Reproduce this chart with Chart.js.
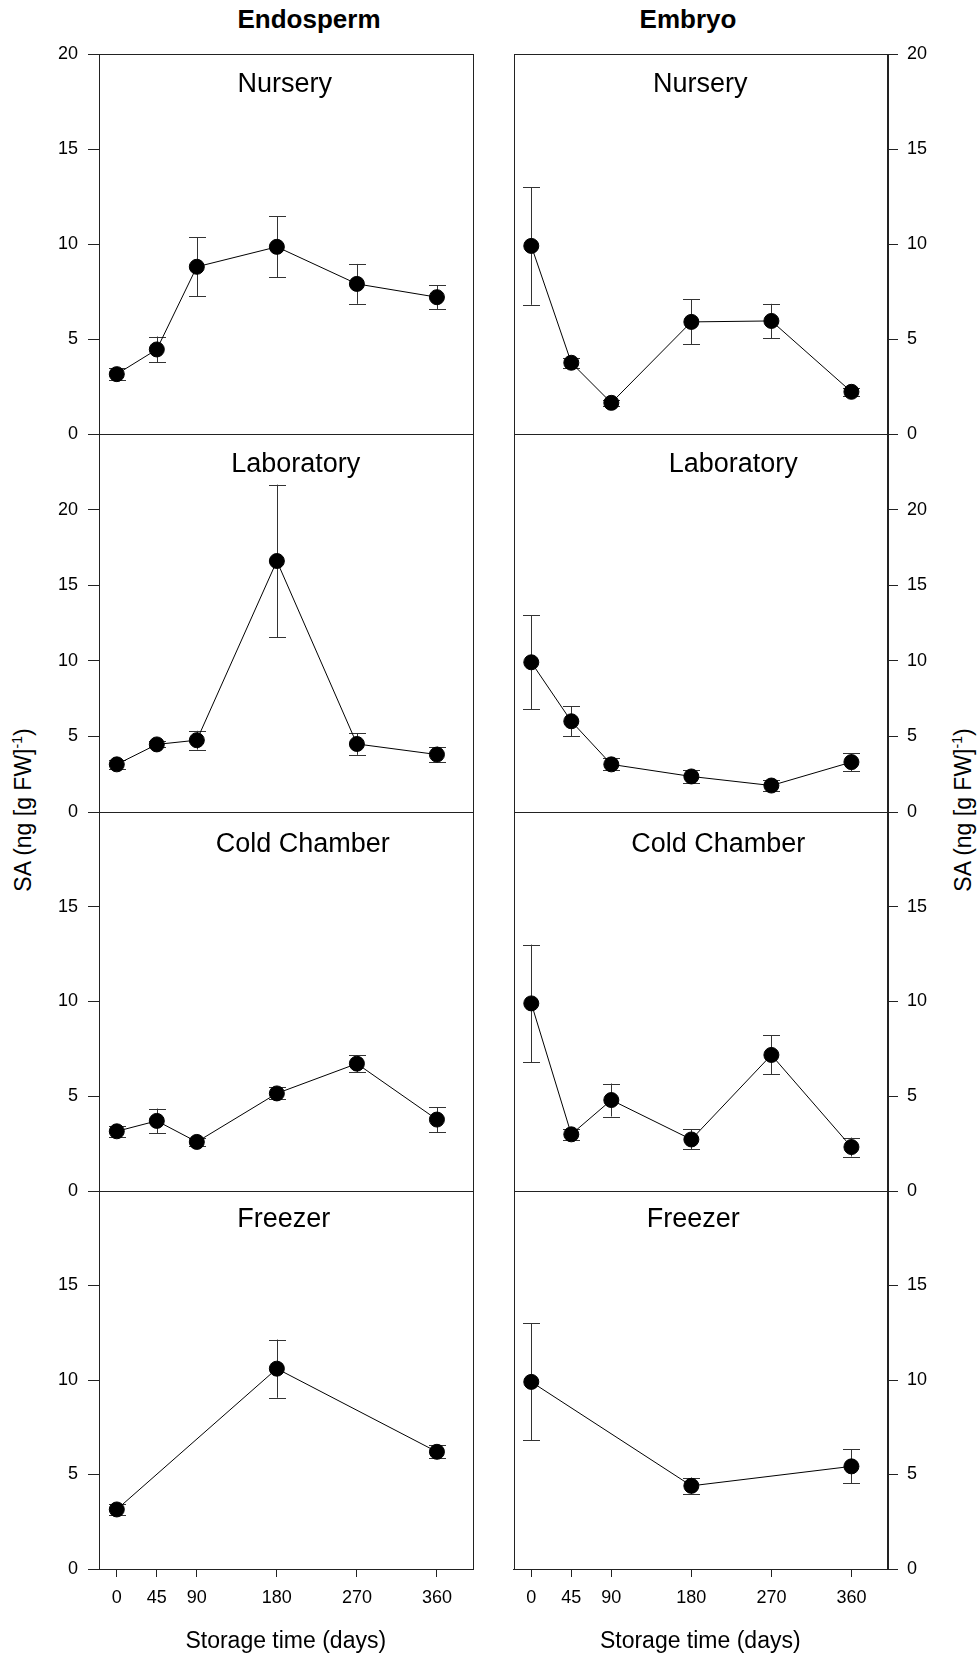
<!DOCTYPE html>
<html lang="en">
<head>
<meta charset="utf-8">
<title>SA content in endosperm and embryo during storage</title>
<script src="https://cdn.jsdelivr.net/npm/chart.js@4.4.1/dist/chart.umd.min.js"></script>
<style>
  html, body { margin: 0; padding: 0; background: #fff; }
  body { width: 979px; height: 1658px; position: relative; overflow: hidden;
         font-family: "Liberation Sans", Arial, sans-serif; color: #000; }
  canvas { position: absolute; }
  .col-title { position: absolute; font-weight: bold; font-size: 26px; line-height: 26px;
               white-space: nowrap; transform: translateX(-50%); }
  .y-title { position: absolute; font-size: 23px; line-height: 23px; white-space: nowrap;
             transform: translate(-50%, -50%) rotate(-90deg); }
  .y-title sup { font-size: 14px; line-height: 0; vertical-align: 9px; }
</style>
</head>
<body>
<div class="col-title" style="left:309px; top:6px">Endosperm</div>
<div class="col-title" style="left:688px; top:6px">Embryo</div>
<div class="y-title" style="left:23px; top:810px">SA (ng [g FW]<sup>-1</sup>)</div>
<div class="y-title" style="left:963px; top:810px">SA (ng [g FW]<sup>-1</sup>)</div>
<script>
// Storage times (days) and axis ticks
const storageDays = [0, 45, 90, 180, 270, 360];
const freezerDays = [0, 180, 360];
const xTickValues = [0, 45, 90, 180, 270, 360];
const yTicksTop = [0, 5, 10, 15, 20];
const yTicksLab = [0, 5, 10, 15, 20];
const yTicksLower = [0, 5, 10, 15];

// SA content, ng [g FW]^-1, mean and error
const endoNursery = [3.15, 4.45, 8.8, 9.85, 7.9, 7.2];
const endoNurseryErr = [0.3, 0.68, 1.55, 1.6, 1.05, 0.62];
const embNursery = [9.9, 3.75, 1.64, 5.9, 5.95, 2.22];
const embNurseryErr = [3.1, 0.25, 0.15, 1.18, 0.9, 0.2];

const endoLab = [3.15, 4.47, 4.75, 16.6, 4.5, 3.8];
const endoLabErr = [0.3, 0.2, 0.62, 5.05, 0.72, 0.52];
const embLab = [9.9, 6.0, 3.15, 2.35, 1.75, 3.3];
const embLabErr = [3.1, 1.0, 0.4, 0.45, 0.38, 0.6];

const endoCold = [3.15, 3.7, 2.59, 5.15, 6.72, 3.77];
const endoColdErr = [0.3, 0.65, 0.2, 0.32, 0.44, 0.66];
const embCold = [9.9, 2.99, 4.8, 2.72, 7.18, 2.32];
const embColdErr = [3.1, 0.3, 0.87, 0.53, 1.03, 0.5];

const endoFreezer = [3.15, 10.6, 6.2];
const endoFreezerErr = [0.3, 1.54, 0.34];
const embFreezer = [9.9, 4.4, 5.43];
const embFreezerErr = [3.1, 0.44, 0.9];

Chart.defaults.font.family = '"Liberation Sans", Arial, sans-serif';
Chart.defaults.color = '#000';

const AXIS = '#222';
const COLS = { left: { x0: 99, x1: 477 }, right: { x0: 509, x1: 887 } };
const ROWS = [ { y0: 54, y1: 434 }, { y0: 434, y1: 812 }, { y0: 812, y1: 1191 }, { y0: 1191, y1: 1569 } ];
const Y_AXIS_W = 70, PAD = 26, X_AXIS_H = 87;

// vertical error bars with caps, drawn behind the markers
const errorBarPlugin = {
  id: 'errorBars',
  beforeDatasetsDraw(chart) {
    const { ctx, scales: { x, y } } = chart;
    ctx.save();
    ctx.strokeStyle = '#333';
    ctx.lineWidth = 1;
    chart.data.datasets.forEach(ds => {
      ds.data.forEach((p, i) => {
        const e = ds.errors[i];
        const px = Math.round(x.getPixelForValue(p.x)) + 0.5;
        const hi = y.getPixelForValue(p.y + e);
        const lo = y.getPixelForValue(p.y - e);
        ctx.beginPath();
        ctx.moveTo(px, hi); ctx.lineTo(px, lo);
        ctx.moveTo(px - 8.5, Math.round(hi) + 0.5); ctx.lineTo(px + 8.5, Math.round(hi) + 0.5);
        ctx.moveTo(px - 8.5, Math.round(lo) + 0.5); ctx.lineTo(px + 8.5, Math.round(lo) + 0.5);
        ctx.stroke();
      });
    });
    ctx.restore();
  }
};

// box around each panel
const framePlugin = {
  id: 'panelFrame',
  afterDraw(chart) {
    const { ctx, chartArea: a } = chart;
    ctx.save();
    ctx.strokeStyle = AXIS;
    ctx.lineWidth = 1;
    ctx.strokeRect(Math.round(a.left) + 0.5, Math.round(a.top) + 0.5,
                   Math.round(a.right - a.left), Math.round(a.bottom - a.top));
    ctx.restore();
  }
};

// storage condition name inside the top of the panel
const labelPlugin = {
  id: 'panelLabel',
  afterDraw(chart, args, opts) {
    const { ctx, chartArea: a } = chart;
    ctx.save();
    ctx.font = '27px "Liberation Sans", Arial, sans-serif';
    ctx.fillStyle = '#000';
    ctx.textAlign = 'center';
    ctx.textBaseline = 'alphabetic';
    ctx.fillText(opts.text, (a.left + a.right) / 2 + opts.dx, a.top + opts.dy);
    ctx.restore();
  }
};

const panels = [
  { side: 'left',  row: 0, label: 'Nursery',      dx: -1,  dy: 37.5, days: storageDays, y: endoNursery, err: endoNurseryErr, yMax: 20, yTicks: yTicksTop },
  { side: 'right', row: 0, label: 'Nursery',      dx: 0,   dy: 37.5, days: storageDays, y: embNursery,  err: embNurseryErr,  yMax: 20, yTicks: yTicksTop },
  { side: 'left',  row: 1, label: 'Laboratory',   dx: 10,  dy: 37.7, days: storageDays, y: endoLab,     err: endoLabErr,     yMax: 25, yTicks: yTicksLab },
  { side: 'right', row: 1, label: 'Laboratory',   dx: 33,  dy: 37.7, days: storageDays, y: embLab,      err: embLabErr,      yMax: 25, yTicks: yTicksLab },
  { side: 'left',  row: 2, label: 'Cold Chamber', dx: 17,  dy: 40.3, days: storageDays, y: endoCold,    err: endoColdErr,    yMax: 20, yTicks: yTicksLower },
  { side: 'right', row: 2, label: 'Cold Chamber', dx: 18,  dy: 40.3, days: storageDays, y: embCold,     err: embColdErr,     yMax: 20, yTicks: yTicksLower },
  { side: 'left',  row: 3, label: 'Freezer',      dx: -2,  dy: 35.7, days: freezerDays, y: endoFreezer, err: endoFreezerErr, yMax: 20, yTicks: yTicksLower },
  { side: 'right', row: 3, label: 'Freezer',      dx: -7,  dy: 35.7, days: freezerDays, y: embFreezer,  err: embFreezerErr,  yMax: 20, yTicks: yTicksLower }
];

function buildPanel(p) {
  const col = COLS[p.side], row = ROWS[p.row];
  const isBottom = p.row === ROWS.length - 1;
  const w = col.x1 - col.x0, h = row.y1 - row.y0;
  const cw = Y_AXIS_W + w + 4;
  const ch = PAD + h + (isBottom ? X_AXIS_H + 4 : PAD);
  const canvas = document.createElement('canvas');
  canvas.width = cw; canvas.height = ch;
  canvas.style.width = cw + 'px'; canvas.style.height = ch + 'px';
  canvas.style.left = (p.side === 'left' ? col.x0 - Y_AXIS_W : col.x0 - 4) + 'px';
  canvas.style.top = (row.y0 - PAD) + 'px';
  document.body.appendChild(canvas);

  new Chart(canvas, {
    type: 'line',
    data: {
      datasets: [{
        data: p.days.map((d, i) => ({ x: d, y: p.y[i] })),
        errors: p.err,
        borderColor: '#000',
        borderWidth: 1,
        pointRadius: 7.5,
        pointHoverRadius: 7.5,
        pointBackgroundColor: '#000',
        pointBorderColor: '#000',
        pointBorderWidth: 1,
        tension: 0,
        fill: false
      }]
    },
    options: {
      responsive: false,
      animation: false,
      devicePixelRatio: 1,
      events: [],
      layout: { padding: { left: p.side === 'left' ? 0 : 4, right: p.side === 'left' ? 4 : 0,
                           top: PAD, bottom: isBottom ? 4 : PAD } },
      plugins: {
        legend: { display: false },
        tooltip: { enabled: false },
        panelLabel: { text: p.label, dx: p.dx, dy: p.dy }
      },
      scales: {
        x: {
          type: 'linear', min: -20, max: 400, position: 'bottom', display: isBottom,
          afterBuildTicks: s => { s.ticks = xTickValues.map(v => ({ value: v })); },
          afterFit: s => { s.height = isBottom ? X_AXIS_H : 0; },
          grid: { drawOnChartArea: false, drawTicks: true, tickLength: 8, color: AXIS, lineWidth: 1 },
          border: { display: true, color: AXIS, width: 1 },
          ticks: { font: { size: 18 }, color: '#000', padding: 10, maxRotation: 0, autoSkip: false },
          title: { display: true, text: 'Storage time (days)', color: '#000',
                   font: { size: 23, lineHeight: 1.2 }, padding: { top: 0, bottom: 1 } }
        },
        y: {
          type: 'linear', min: 0, max: p.yMax, position: p.side,
          afterBuildTicks: s => { s.ticks = p.yTicks.map(v => ({ value: v })); },
          afterFit: s => { s.width = Y_AXIS_W; },
          grid: { drawOnChartArea: false, drawTicks: true, tickLength: 11, color: AXIS, lineWidth: 1 },
          border: { display: true, color: AXIS, width: 1 },
          ticks: { font: { size: 18 }, color: '#000', padding: p.side === 'left' ? 10 : 9 }
        }
      }
    },
    plugins: [errorBarPlugin, framePlugin, labelPlugin]
  });
}

panels.forEach(buildPanel);
</script>
</body>
</html>
